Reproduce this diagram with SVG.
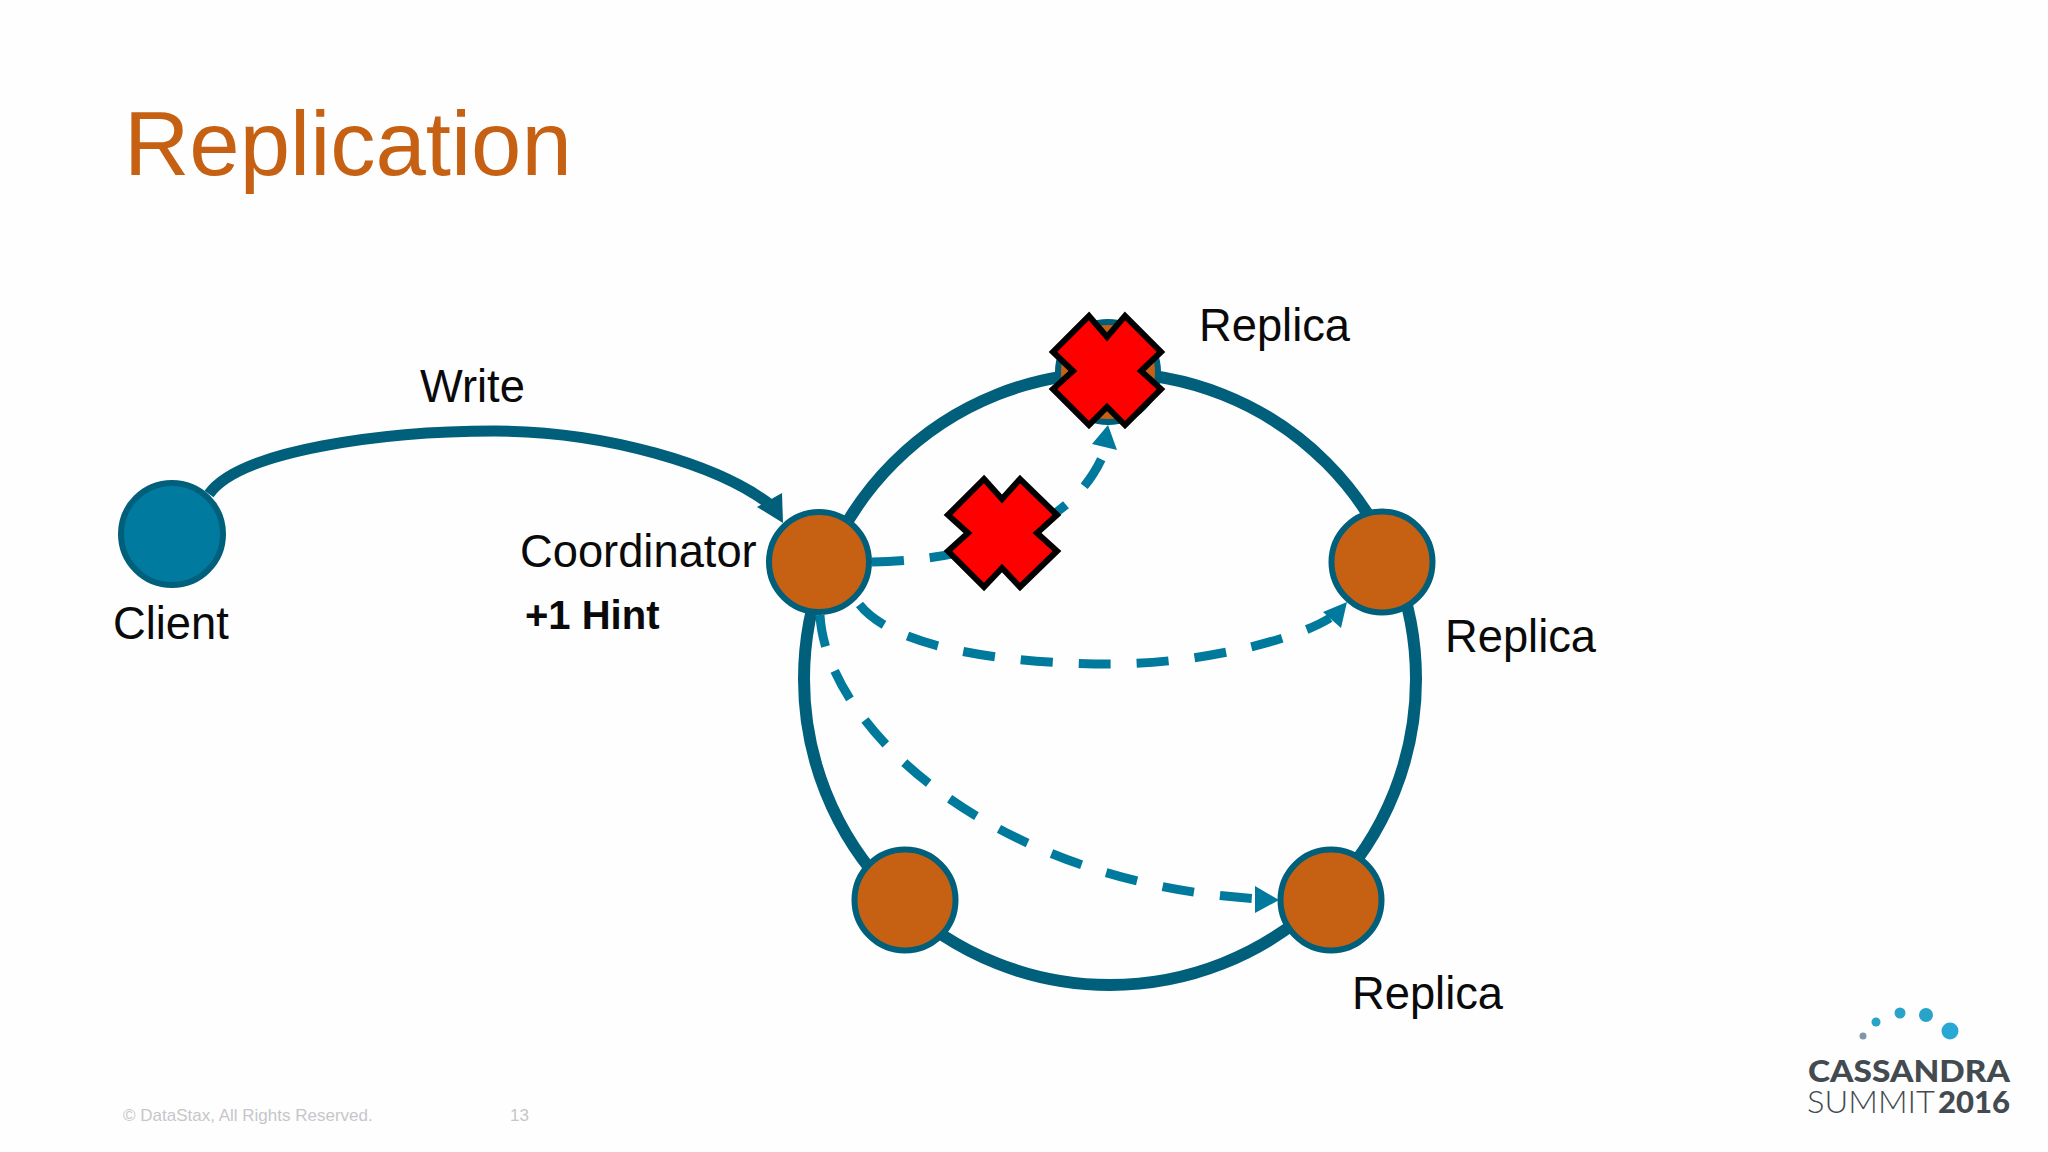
<svg xmlns="http://www.w3.org/2000/svg" width="2048" height="1152" viewBox="0 0 2048 1152">
<style>
text{font-family:"Liberation Sans",Arial,sans-serif;fill:#0a0a0a}
.lbl{font-size:45.3px}
.node{fill:#c66114;stroke:#005f7a;stroke-width:6}
.ring{fill:none;stroke:#005f7a;stroke-width:12}
.solid{fill:none;stroke:#005f7a;stroke-width:11}
.dash{fill:none;stroke:#007a9c;stroke-width:9;stroke-dasharray:32 26}
.hd{fill:#007a9c}
.x{fill:#ff0000;stroke:#000;stroke-width:6;stroke-linejoin:miter}
.foot{font-size:17px;fill:#c6c6ca}
.logo{font-family:"Lato","Open Sans",sans-serif;fill:#434a50}
</style>
<rect width="2048" height="1152" fill="#fefefe"/>
<text id="title" x="124" y="175" font-size="90.5" style="fill:#c66114">Replication</text>
<g id="connectors">
<circle class="ring" cx="1110" cy="679" r="306"/>
<path class="solid" d="M209 494C240 450 385 431 495 431C605 431 720 465 772 506"/>
<polygon points="757,507 782,493 783,523" fill="#005f7a"/>
<path class="dash" d="M872 562C950 561 1075 540 1107 445"/>
<polygon class="hd" points="1108,425 1092,444 1117,450"/>
<path class="dash" style="stroke-dashoffset:-8" d="M855 598C885 650 1015 664 1110 664C1200 664 1295 640 1330 618"/>
<polygon class="hd" points="1347,602 1323,612 1341,628"/>
<path class="dash" d="M820 615C826 728 995 885 1262 899"/>
<polygon class="hd" points="1279,900 1255,886 1255,913"/>
</g>
<g id="client"><circle cx="172" cy="534" r="51" fill="#007a9e" stroke="#005f7a" stroke-width="6"/><text class="lbl" x="113" y="639">Client</text></g>
<g id="coordinator"><circle class="node" cx="819" cy="562" r="50"/><text class="lbl" x="520" y="567">Coordinator</text><text x="525" y="629" font-size="40" font-weight="bold">+1 Hint</text></g>
<text id="write" class="lbl" x="420" y="402">Write</text>
<g id="replica-top"><circle class="node" cx="1108" cy="372" r="50"/><text class="lbl" x="1199" y="341">Replica</text></g>
<g id="replica-right"><circle class="node" cx="1382" cy="562" r="50.5"/><text class="lbl" x="1445" y="652">Replica</text></g>
<g id="replica-bottom"><circle class="node" cx="1331" cy="900" r="50.5"/><text class="lbl" x="1352" y="1009">Replica</text></g>
<g id="node-bottom-left"><circle class="node" cx="905" cy="900" r="50.5"/></g>
<polygon id="cross-top" class="x" points="1089,316 1107,337 1125,316 1161,352 1141,371 1161,389 1125,425 1107,407 1089,425 1053,389 1073,371 1053,352"/>
<polygon id="cross-mid" class="x" points="984,479 1002,499 1020,479 1057,515 1037,533 1057,551 1020,587 1002,568 984,587 948,551 968,533 948,515"/>
<g id="footer"><text class="foot" x="123" y="1121">© DataStax, All Rights Reserved.</text><text class="foot" x="510" y="1121">13</text></g>
<g id="logo">
<circle cx="1863" cy="1036" r="3.5" fill="#7f96a8"/>
<circle cx="1876" cy="1022" r="4.5" fill="#2aa3c8"/>
<circle cx="1900" cy="1013" r="5.5" fill="#2aa3c8"/>
<circle cx="1926" cy="1015" r="7" fill="#2aa3c8"/>
<circle cx="1950" cy="1031" r="8.5" fill="#2aa8d4"/>
<text class="logo" x="1808" y="1082" font-size="31" font-weight="900" textLength="202" lengthAdjust="spacingAndGlyphs">CASSANDRA</text>
<text class="logo" x="1807" y="1113" font-size="31" font-weight="300" textLength="128" lengthAdjust="spacingAndGlyphs">SUMMIT</text>
<text class="logo" x="1938" y="1113" font-size="31" font-weight="900" textLength="72" lengthAdjust="spacingAndGlyphs">2016</text>
</g>
</svg>
